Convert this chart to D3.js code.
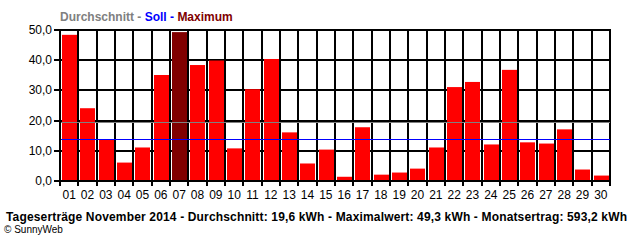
<!DOCTYPE html>
<html><head><meta charset="utf-8">
<script src="https://cdn.jsdelivr.net/npm/d3@7"></script>
<style>body{margin:0;background:#fff}svg{display:block}text{font-family:"Liberation Sans",Arial,sans-serif}</style>
</head><body>
<svg id="c" width="640" height="240"></svg>
<script>
const days = ["01","02","03","04","05","06","07","08","09","10","11","12","13","14","15","16","17","18","19","20","21","22","23","24","25","26","27","28","29","30"];
const values = [48.4,24.1,13.9,6.1,11.1,35.1,49.3,38.4,39.9,10.8,30.4,40.4,16.1,5.8,10.4,1.4,17.8,2.1,2.8,4.1,11.1,31.1,32.8,12.1,36.8,12.8,12.4,17.1,3.8,1.8];
const yTicks = [0,10,20,30,40,50];
const yTickLabels = ["0,0","10,0","20,0","30,0","40,0","50,0"];
const average = [19.6];
const target = [14];
const maxValue = [49.3];
const legendItems = ["Durchschnitt"," - ","Soll"," - ","Maximum"];
const legendColors = ["#808080","#808080","#0000ff","#0000ff","#800000"];
const caption = ["Tageserträge November 2014 - Durchschnitt: 19,6 kWh - Maximalwert: 49,3 kWh - Monatsertrag: 593,2 kWh"];
const credit = ["© SunnyWeb"];

const svg = d3.select("#c");
const x = d3.scaleBand().domain(days).range([60,610]).padding(0);
const y = d3.scaleLinear().domain([0,50]).range([181,30]);
const step = x.step();
const ry = v => Math.round(y(v));

// horizontal grid
svg.append("g").selectAll("line").data(yTicks).join("line")
  .attr("x1",60).attr("x2",611).attr("y1",d=>ry(d)).attr("y2",d=>ry(d))
  .attr("stroke","#000").attr("stroke-width",2);
// vertical grid + bottom ticks
const bounds = days.map(d=>x(d)).concat([x(days[days.length-1])+step]);
svg.append("g").selectAll("line").data(bounds).join("line")
  .attr("x1",d=>Math.round(d)).attr("x2",d=>Math.round(d)).attr("y1",ry(50)-1).attr("y2",186)
  .attr("stroke","#000").attr("stroke-width",2);
// left ticks
svg.append("g").selectAll("line").data(yTicks).join("line")
  .attr("x1",54).attr("x2",60).attr("y1",d=>ry(d)).attr("y2",d=>ry(d))
  .attr("stroke","#000").attr("stroke-width",2);
// y labels
svg.append("g").selectAll("text").data(yTicks).join("text")
  .attr("x",52).attr("y",d=>ry(d)+4).attr("text-anchor","end")
  .attr("font-size",12).attr("fill","#000").text((d,i)=>yTickLabels[i]);
// bars
svg.append("g").selectAll("rect").data(values).join("rect")
  .attr("x",(d,i)=>Math.round(x(days[i]))+2).attr("width",Math.round(step)-3)
  .attr("y",d=>y(d)).attr("height",d=>ry(0)-1-y(d))
  .attr("fill",d=>d===maxValue[0]?"#800000":"#ff0000");
// average & target lines
svg.append("line").attr("x1",61).attr("x2",610).attr("y1",ry(average[0])+0.5).attr("y2",ry(average[0])+0.5)
  .attr("stroke","#808080").attr("stroke-width",1);
svg.append("line").attr("x1",61).attr("x2",610).attr("y1",ry(target[0])+0.5).attr("y2",ry(target[0])+0.5)
  .attr("stroke","#0000ff").attr("stroke-width",1);
// x labels
svg.append("g").selectAll("text").data(days).join("text")
  .attr("x",d=>x(d)+step/2).attr("y",199).attr("text-anchor","middle")
  .attr("font-size",12).attr("fill","#000").text(d=>d);
// legend
const lg = svg.append("text").attr("x",60).attr("y",21).attr("font-size",12).attr("font-weight","bold");
lg.selectAll("tspan").data(legendItems).join("tspan").attr("fill",(d,i)=>legendColors[i]).text(d=>d);
// caption
svg.append("text").attr("x",6).attr("y",221)
  .attr("font-size",12).attr("font-weight","bold").attr("fill","#000")
  .attr("textLength",621).attr("lengthAdjust","spacing").text(caption[0]);
svg.append("text").attr("x",4).attr("y",233).attr("font-size",10).attr("fill","#000").text(credit[0]);
</script>
</body></html>
